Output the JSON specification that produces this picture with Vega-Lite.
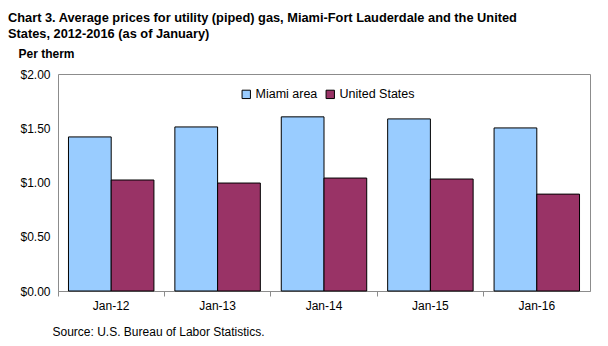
{
  "$schema": "https://vega.github.io/schema/vega-lite/v6.json",
  "width": 532,
  "height": 217,
  "autosize": {"type": "none"},
  "padding": {"left": 58, "top": 74, "right": 18, "bottom": 55},
  "background": "white",
  "title": {
    "text": ["Chart 3. Average prices for utility (piped) gas, Miami-Fort Lauderdale and the United", "States, 2012-2016 (as of January)"],
    "anchor": "start",
    "frame": "group",
    "dx": -50,
    "offset": 6,
    "font": "Liberation Sans",
    "fontSize": 12.8,
    "fontWeight": "bold",
    "color": "black",
    "lineHeight": 16
  },
  "config": {
    "view": {"stroke": "#8c8c8c", "strokeWidth": 1},
    "font": "Liberation Sans"
  },
  "data": {
    "values": [
      {"period": "Jan-12", "series": "Miami area", "price": 1.42},
      {"period": "Jan-12", "series": "United States", "price": 1.023},
      {"period": "Jan-13", "series": "Miami area", "price": 1.512},
      {"period": "Jan-13", "series": "United States", "price": 0.995},
      {"period": "Jan-14", "series": "Miami area", "price": 1.605},
      {"period": "Jan-14", "series": "United States", "price": 1.041},
      {"period": "Jan-15", "series": "Miami area", "price": 1.586},
      {"period": "Jan-15", "series": "United States", "price": 1.032},
      {"period": "Jan-16", "series": "Miami area", "price": 1.503},
      {"period": "Jan-16", "series": "United States", "price": 0.893}
    ]
  },
  "mark": {"type": "bar", "stroke": "black", "strokeWidth": 1},
  "encoding": {
    "x": {
      "field": "period",
      "type": "nominal",
      "sort": null,
      "scale": {"paddingInner": 0, "paddingOuter": 0},
      "axis": {
        "title": "Source: U.S. Bureau of Labor Statistics.",
        "titleFont": "Liberation Sans",
        "titleFontSize": 12,
        "titleFontWeight": "normal",
        "titleColor": "black",
        "titleAnchor": "start",
        "titleAlign": "left",
        "titleX": -6,
        "titleY": 44,
        "titleBaseline": "alphabetic",
        "labelAngle": 0,
        "labelFontSize": 12,
        "labelColor": "black",
        "labelPadding": 4,
        "bandPosition": 0,
        "ticks": true,
        "tickSize": 5,
        "tickColor": "#8c8c8c",
        "domainColor": "#8c8c8c",
        "grid": false
      }
    },
    "xOffset": {
      "field": "series",
      "type": "nominal",
      "scale": {"paddingInner": 0, "paddingOuter": 0.245}
    },
    "y": {
      "field": "price",
      "type": "quantitative",
      "scale": {"domain": [0, 2]},
      "axis": {
        "values": [0, 0.5, 1, 1.5, 2],
        "format": "$.2f",
        "grid": false,
        "ticks": false,
        "domain": false,
        "labelFontSize": 12,
        "labelColor": "black",
        "labelPadding": 8,
        "title": "Per therm",
        "titleAngle": 0,
        "titleFontSize": 12,
        "titleFontWeight": "bold",
        "titleColor": "black",
        "titleAlign": "left",
        "titleBaseline": "alphabetic",
        "titleX": -40,
        "titleY": -17
      }
    },
    "color": {
      "field": "series",
      "type": "nominal",
      "scale": {"domain": ["Miami area", "United States"], "range": ["#99ccff", "#993366"]},
      "legend": {
        "title": null,
        "orient": "none",
        "direction": "horizontal",
        "legendX": 182,
        "legendY": 14,
        "symbolType": "square",
        "symbolSize": 70,
        "symbolStrokeColor": "black",
        "symbolStrokeWidth": 1,
        "symbolOpacity": 1,
        "labelFontSize": 12.5,
        "labelColor": "black",
        "labelOffset": 3,
        "columnPadding": 6
      }
    }
  }
}
